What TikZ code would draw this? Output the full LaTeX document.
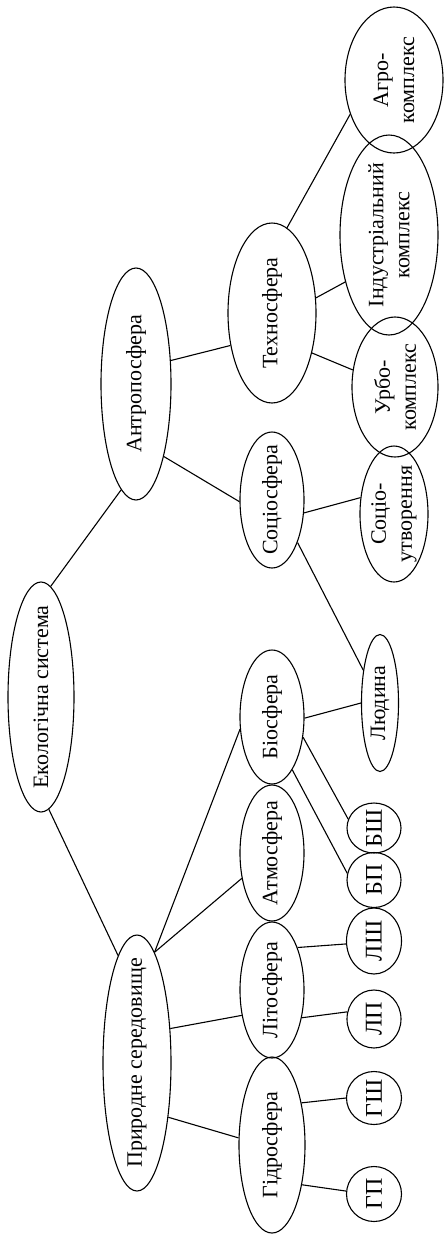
\documentclass[tikz,border=0pt]{standalone}
\usepackage{fontspec}
\setmainfont{Liberation Serif}
\usetikzlibrary{shapes.geometric}
\begin{document}
\begin{tikzpicture}[x=1pt,y=-1pt,
  sphere/.style={draw,ellipse,line width=1.1pt,inner sep=0pt},
  lbl/.style={rotate=90,align=center,inner sep=0pt,font=\fontsize{22}{26}\selectfont},
  abbr/.style={lbl,font=\fontsize{24}{28}\selectfont}]
            \useasboundingbox (0,0) rectangle (444,1235);
            \node[sphere,minimum width=66,minimum height=230,label={[lbl]center:Екологічна система}] (eko) at (41,697) {};
            \node[sphere,minimum width=70,minimum height=232,label={[lbl]center:Антропосфера}] (antro) at (136,384) {};
            \node[sphere,minimum width=68,minimum height=256,label={[lbl]center:Природне середовище}] (pryr) at (137,1063) {};
            \node[sphere,minimum width=88,minimum height=180,label={[lbl]center:Техносфера}] (tekhno) at (272,313) {};
            \node[sphere,minimum width=64,minimum height=136,label={[lbl]center:Соціосфера}] (sotsio) at (272,500) {};
            \node[sphere,minimum width=64,minimum height=134,label={[lbl]center:Біосфера}] (bio) at (272,717) {};
            \node[sphere,minimum width=64,minimum height=136,label={[lbl]center:Атмосфера}] (atmo) at (272,853) {};
            \node[sphere,minimum width=64,minimum height=136,label={[lbl]center:Літосфера}] (lito) at (272,990) {};
            \node[sphere,minimum width=66,minimum height=176,label={[lbl]center:Гідросфера}] (hidro) at (272,1145) {};
            \node[sphere,minimum width=37,minimum height=137,label={[lbl]center:Людина}] (lyud) at (380,703) {};
            \node[sphere,minimum width=68,minimum height=136,label={[lbl]center:{Соціо-\\утворення}}] (sotsut) at (394,514) {};
            \node[sphere,minimum width=86,minimum height=140,label={[lbl]center:{Урбо-\\комплекс}}] (urbo) at (395,387) {};
            \node[sphere,minimum width=98,minimum height=200,label={[lbl]center:{Індустріальний\\комплекс}}] (indus) at (389,235) {};
            \node[sphere,minimum width=98,minimum height=146,label={[lbl]center:{Агро-\\комплекс}}] (agro) at (394,80) {};
            \node[sphere,minimum width=54,minimum height=50,label={[abbr]center:БШ}] (bsh) at (374,828) {};
            \node[sphere,minimum width=54,minimum height=55,label={[abbr]center:БП}] (bp) at (374,880) {};
            \node[sphere,minimum width=55,minimum height=66,label={[abbr]center:ЛШ}] (lsh) at (374,941) {};
            \node[sphere,minimum width=54,minimum height=58,label={[abbr]center:ЛП}] (lp) at (374,1019) {};
            \node[sphere,minimum width=55,minimum height=53,label={[abbr]center:ГШ}] (gsh) at (374,1098) {};
            \node[sphere,minimum width=55,minimum height=55,label={[abbr]center:ГП}] (gp) at (374,1194) {};
            \draw[line width=1.1pt] (eko.85) -- (antro.262);
            \draw[line width=1.1pt] (eko.274) -- (pryr.100);
            \draw[line width=1.1pt] (antro.34) -- (tekhno.218);
            \draw[line width=1.1pt] (antro.291) -- (sotsio.183);
            \draw[line width=1.1pt] (tekhno.315) -- (urbo.158);
            \draw[line width=1.1pt] (tekhno.19) -- (indus.227);
            \draw[line width=1.1pt] (tekhno.80) -- (agro.218);
            \draw[line width=1.1pt] (sotsio.338) -- (sotsut.154);
            \draw[line width=1.1pt] (sotsio.301) -- (lyud.117);
            \draw[line width=1.1pt] (bio.358) -- (lyud.180);
            \draw[line width=1.1pt] (bio.291) -- (bp.166);
            \draw[line width=1.1pt] (bio.327) -- (bsh.161);
            \draw[line width=1.1pt] (pryr.81) -- (atmo.220);
            \draw[line width=1.1pt] (pryr.81) -- (bio.201);
            \draw[line width=1.1pt] (pryr.46) -- (lito.220);
            \draw[line width=1.1pt] (pryr.300) -- (hidro.168);
            \draw[line width=1.1pt] (lito.59) -- (lsh.186);
            \draw[line width=1.1pt] (lito.317) -- (lp.165);
            \draw[line width=1.1pt] (hidro.55) -- (gsh.180);
            \draw[line width=1.1pt] (hidro.307) -- (gp.174);
            \end{tikzpicture}
\end{document}
